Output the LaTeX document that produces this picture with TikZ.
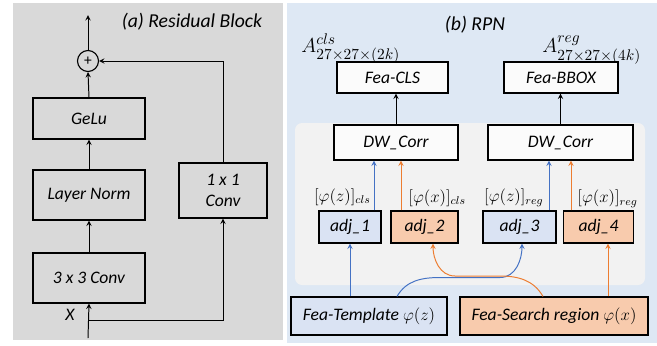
\documentclass[tikz,border=0pt]{standalone}
\usepackage{fontspec}
\setmainfont{Carlito}
\usepackage{tikz}
\usetikzlibrary{positioning,calc,arrows.meta}
\usepackage{amsmath,amssymb}

\definecolor{leftbg}{HTML}{D9D9D9}
\definecolor{rightbg}{HTML}{DEE8F4}
\definecolor{innerbg}{HTML}{F2F2F2}
\definecolor{zfill}{HTML}{DAE3F3}
\definecolor{xfill}{HTML}{F8CBAD}
\definecolor{zline}{HTML}{4472C4}
\definecolor{xline}{HTML}{ED7D31}

\begin{document}
\begin{tikzpicture}[x=0.025cm,y=-0.025cm,>=stealth,line width=0.7pt]
\tikzset{
  block/.style={rectangle, draw, line width=0.8pt, align=center, inner sep=0pt,
    font=\itshape\fontsize{12.5}{15}\selectfont},
  zblock/.style={block, fill=zfill},
  xblock/.style={block, fill=xfill},
  wblock/.style={block, fill=white!97!gray},
  lbl/.style={font=\fontsize{12}{14}\selectfont, inner sep=0pt},
  title/.style={font=\itshape\fontsize{14}{16}\selectfont}
}
\useasboundingbox (0,0) rectangle (657,345);

% Backgrounds
\fill[leftbg] (13,3) rectangle (283,340);
\fill[rightbg] (287,3) rectangle (657,343);
\fill[innerbg, rounded corners=5pt] (295,123) rectangle (645,285);

% Nodes (a)
\node[title] (ttla) at (192,22) {(a) Residual Block};
\node[block, minimum width=2.8cm, minimum height=1.25cm] (conv3) at (89,278) {3 x 3 Conv};
\node[block, minimum width=2.8cm, minimum height=1.25cm] (lnorm) at (89,195) {Layer Norm};
\node[block, minimum width=2.8cm, minimum height=1.025cm] (gelu) at (89,118.5) {GeLu};
\node[block, minimum width=2.2cm, minimum height=1.375cm] (conv1) at (223,190.5) {1 x 1\\Conv};
\node[circle, draw, line width=0.8pt, minimum size=0.525cm, inner sep=0pt,
  font=\fontsize{11}{12}\selectfont] (plus) at (88,61) {+};
\node[block, draw=none] (xin) at (70,315) {X};
\coordinate (output) at (88,15);
\coordinate (input) at (88,338);
\coordinate (split) at (88,320);

% Nodes (b)
\node[title] (ttlb) at (475,25) {(b) RPN};
\node[anchor=base west, font=\fontsize{15.5}{18}\selectfont, inner sep=0pt] (acls) at (301,52) {$A^{cls}_{27\times 27\times(2k)}$};
\node[anchor=base west, font=\fontsize{15.5}{18}\selectfont, inner sep=0pt] (areg) at (542,52) {$A^{reg}_{27\times 27\times(4k)}$};
\node[wblock, minimum width=2.775cm, minimum height=0.775cm] (feacls) at (392.5,77.5) {Fea-CLS};
\node[wblock, minimum width=2.85cm, minimum height=0.775cm] (feabbox) at (561,77.5) {Fea-BBOX};
\node[wblock, minimum width=3.1cm, minimum height=0.875cm] (dw1) at (396,142.5) {DW\_Corr};
\node[wblock, minimum width=3.625cm, minimum height=0.875cm] (dw2) at (560.5,142.5) {DW\_Corr};
\node[zblock, minimum width=1.55cm, minimum height=0.8cm] (adj1) at (350,227) {adj\_1};
\node[xblock, minimum width=1.675cm, minimum height=0.8cm] (adj2) at (424.5,227) {adj\_2};
\node[zblock, minimum width=1.825cm, minimum height=0.8cm] (adj3) at (519.5,227) {adj\_3};
\node[xblock, minimum width=1.75cm, minimum height=0.8cm] (adj4) at (598.5,227) {adj\_4};
\node[zblock, minimum width=3.9cm, minimum height=0.95cm] (tmpl) at (369,316) {Fea-Template $\varphi(z)$};
\node[xblock, minimum width=4.7cm, minimum height=0.95cm] (search) at (554,316) {Fea-Search region $\varphi(x)$};

% Arrow ends off the box centres
\coordinate (a1top) at ($(adj1.north)+(24,0)$);
\coordinate (a2top) at ($(adj2.north)+(-23.5,0)$);
\coordinate (a3top) at ($(adj3.north)+(29.5,0)$);
\coordinate (a4top) at ($(adj4.north)+(-27.5,0)$);
\coordinate (a2bot) at ($(adj2.south)+(8.5,0)$);
\coordinate (a3bot) at ($(adj3.south)+(2.5,0)$);
\coordinate (a4bot) at ($(adj4.south)+(9.5,0)$);
\coordinate (tmplout) at ($(tmpl.north)+(28,0)$);
\coordinate (searchout) at ($(search.north)+(-11,0)$);

% Arrows (a)
\draw[->] (input) -- (conv3.south);
\draw[->] (conv3) -- (lnorm);
\draw[->] (lnorm) -- (gelu);
\draw[->] (gelu.north) -- (plus.south);
\draw[->] (plus.north) -- (output);
\draw[->] (split) -| (conv1.south);
\draw[->] (conv1.north) |- (plus.east);

% Arrows (b)
\draw[->] (dw1.north) -- (dw1.north |- feacls.south);
\draw[->] (dw2.north) -- (dw2.north |- feabbox.south);
\draw[->, zline] (a1top) -- (a1top |- dw1.south);
\draw[->, xline] (a2top) -- (a2top |- dw1.south);
\draw[->, zline] (a3top) -- (a3top |- dw2.south);
\draw[->, xline] (a4top) -- (a4top |- dw2.south);
\draw[->, zline] (adj1.south |- tmpl.north) -- (adj1.south);
\draw[->, xline] (a4bot |- search.north) -- (a4bot);
\draw[->, zline] (tmplout) to[out=60,in=180] (440,277.5) -- (500,277.5)
  to[out=0,in=-90] (a3bot);
\draw[->, xline] (searchout) to[out=120,in=0] (500,276) -- (455,276)
  to[out=180,in=-90] (a2bot);

% Labels
\node[lbl, anchor=east] (lzcls) at (371,197) {$[\varphi(z)]_{cls}$};
\node[lbl, anchor=west] (lxcls) at (408,198) {$[\varphi(x)]_{cls}$};
\node[lbl, anchor=east] (lzreg) at (544,198) {$[\varphi(z)]_{reg}$};
\node[lbl, anchor=west] (lxreg) at (577,199) {$[\varphi(x)]_{reg}$};
\end{tikzpicture}
\end{document}
